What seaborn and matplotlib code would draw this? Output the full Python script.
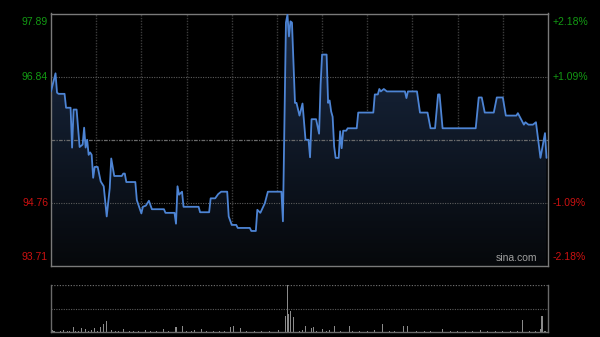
import numpy as np
import pandas as pd
import matplotlib
matplotlib.use("Agg")
import matplotlib.pyplot as plt
from matplotlib.colors import LinearSegmentedColormap
import seaborn as sns

# ---------------- data ----------------
price_minutes = [0, 3, 4, 5, 9, 10, 13, 14, 15, 17, 19, 21, 22, 23, 24, 25, 26, 27, 28, 29,
                 31, 33, 35, 37, 39, 40, 42, 47, 48, 49, 50, 56, 57, 60, 61, 63, 65, 67, 75, 76,
                 82, 83, 84, 85, 87, 88, 98, 99, 105, 106, 109, 111, 113, 117, 118, 120, 123, 124,
                 132, 133, 136, 137, 139, 142, 144, 153, 154, 156, 157, 158, 159, 160, 162, 163,
                 165, 167, 169, 171, 172, 173, 176, 178, 179, 180, 183, 184, 185, 186, 187, 188,
                 189, 191, 192, 193, 194, 196, 197, 203, 204, 214, 215, 217, 218, 219, 221, 223,
                 235, 236, 237, 243, 245, 250, 252, 255, 257, 258, 260, 282, 284, 286, 288, 294,
                 296, 300, 302, 309, 310, 314, 315, 317, 320, 322, 325, 328, 329]
price_values = [96.60, 96.90, 96.58, 96.56, 96.56, 96.33, 96.33, 95.67, 96.30, 96.30, 95.68, 95.72,
                96.00, 95.67, 95.80, 95.55, 95.59, 95.55, 95.17, 95.35,
                95.35, 95.11, 95.03, 94.53, 95.00, 95.49, 95.20, 95.20, 95.24, 95.24, 95.10, 95.10,
                94.80, 94.58, 94.69, 94.71, 94.79, 94.65, 94.65, 94.59,
                94.59, 94.41, 95.03, 94.89, 94.94, 94.69, 94.69, 94.60, 94.60, 94.83, 94.83, 94.90,
                94.94, 94.94, 94.53, 94.39, 94.39, 94.34,
                94.34, 94.29, 94.29, 94.64, 94.59, 94.75, 94.94, 94.94, 94.45, 97.74, 97.87, 97.51,
                97.76, 97.74, 96.41, 96.41,
                96.20, 96.40, 95.80, 95.80, 95.51, 96.14, 96.14, 95.90, 96.71, 97.21, 97.21, 96.41,
                96.45, 96.27, 96.18, 95.69,
                95.50, 95.50, 95.94, 95.66, 95.95, 95.95, 95.99, 95.99, 96.25, 96.25, 96.55, 96.55,
                96.64, 96.60, 96.64, 96.60,
                96.60, 96.49, 96.60, 96.60, 96.25, 96.25, 95.99, 95.99, 96.55, 96.55, 95.99, 95.99,
                96.50, 96.50, 96.25, 96.25,
                96.50, 96.50, 96.20, 96.20, 96.24, 96.05, 96.09, 96.05, 96.05, 96.09, 95.50, 95.91, 95.50]

volume_minutes = [1, 2, 6, 8, 11, 12, 15, 16, 18, 20, 23, 25, 27, 29, 31, 33, 35, 37, 40, 43,
                  45, 48, 52, 55, 58, 63, 66, 70, 75, 78, 83, 87, 90, 93, 95, 100, 103, 108, 112,
                  115, 119, 121, 126, 130, 135, 140, 145, 151, 156, 157, 158, 159, 161, 165, 167,
                  169, 173, 174, 176, 180, 183, 185, 188, 192, 198, 200, 205, 210, 215, 220, 225,
                  228, 234, 237, 243, 248, 252, 260, 265, 270, 275, 280, 285, 290, 295, 300, 305,
                  310, 313, 318, 322, 325, 326, 328]
volume_values = [20, 15, 12, 18, 15, 10, 47, 12, 15, 40, 35, 12, 18, 40, 15, 50, 80, 110, 20, 15,
                 12, 30, 10, 15, 12, 18, 10, 12, 30, 15, 50, 60, 12, 15, 18, 30, 10, 15, 12,
                 10, 55, 60, 40, 12, 10, 15, 12, 20, 160, 470, 177, 210, 147, 15, 20,
                 60, 40, 50, 15, 30, 12, 18, 60, 15, 60, 12, 15, 10, 18, 80, 12,
                 15, 60, 60, 12, 10, 15, 30, 12, 10, 15, 12, 18, 10, 12, 15, 10,
                 12, 120, 15, 10, 30, 160, 12]

prev_close = 95.80
price_ticks = [97.89, 96.84, 94.76, 93.71]
pct_labels = ["+2.18%", "+1.09%", "-1.09%", "-2.18%"]
y_min, y_max = 93.71, 97.89
x_max = 330

price_df = pd.DataFrame({"minute": price_minutes, "price": price_values})
vol_df = pd.DataFrame({"minute": volume_minutes, "volume": volume_values})

# ---------------- style ----------------
sns.set_theme(style="dark", rc={"axes.facecolor": "#000000", "figure.facecolor": "#000000"})
plt.rcParams["font.family"] = ["Liberation Sans", "DejaVu Sans"]

fig = plt.figure(figsize=(6.0, 3.37), dpi=100)
fig.patch.set_facecolor("#000000")
ax = fig.add_axes([51 / 600, 71 / 337, 497 / 600, 252.5 / 337])
axv = fig.add_axes([51 / 600, 5 / 337, 497 / 600, 47 / 337])

for a in (ax, axv):
    a.set_facecolor("#000000")
    a.grid(False)

# gradient fill under the price line
poly = ax.fill_between(price_df["minute"], price_df["price"], y_min, color="none", lw=0)
cmap = LinearSegmentedColormap.from_list("fillgrad", ["#06080b", "#1a2a44"])
grad = np.linspace(1, 0, 256).reshape(-1, 1)
im = ax.imshow(grad, extent=[0, x_max, y_min, y_max], aspect="auto", cmap=cmap,
               origin="upper", zorder=1)
im.set_clip_path(poly.get_paths()[0], ax.transData)

# grid lines
for m in range(30, 330, 30):
    ax.axvline(m, color="#3c3c3c", lw=1.0, ls=(0, (1, 1)), zorder=0.5)
for t in (96.84, 94.76):
    ax.axhline(t, color="#5c5c5c", lw=0.8, ls=(0, (1, 1.2)), zorder=2)
ax.axhline(prev_close, color="#6a6a6a", lw=0.9, ls=(0, (3, 1, 1, 1)), zorder=2)

# price line
sns.lineplot(data=price_df, x="minute", y="price", ax=ax, color="#4d84d4", lw=1.3, zorder=3)

ax.set_xlim(0, x_max)
ax.set_ylim(y_min, y_max)
ax.set_xticks([])
ax.set_yticks([])
ax.set_xlabel("")
ax.set_ylabel("")
for s in ax.spines.values():
    s.set_visible(True)
    s.set_color("#7a7a7a")
    s.set_linewidth(1.0)

# axis labels
colors = ["#139a13", "#139a13", "#cc1111", "#cc1111"]
vas = ["top", "center", "center", "bottom"]
for t, lab, c, va in zip(price_ticks, pct_labels, colors, vas):
    off = {"top": -0.05, "center": 0.0, "bottom": 0.07}[va]
    ax.text(-3 / 497 * x_max, t + off, f"{t:.2f}", color=c, fontsize=7.5,
            ha="right", va=va, transform=ax.transData)
    ax.text(x_max + 5 / 497 * x_max, t + off, lab, color=c, fontsize=7.5,
            ha="left", va=va, transform=ax.transData)

ax.text(0.978, 0.012, "sina.com", color="#a0a0a0", fontsize=7.5, ha="right", va="bottom",
        transform=ax.transAxes, zorder=4)

# volume
axv.bar(vol_df["minute"], vol_df["volume"], width=0.7, color="#8a8a8a", lw=0)
axv.set_xlim(0, x_max)
axv.set_ylim(0, 470)
axv.axhline(235, color="#5c5c5c", lw=0.8, ls=(0, (1, 1.2)))
axv.axhline(470, color="#6a6a6a", lw=0.9, ls=(0, (1, 1.2)))
axv.set_xticks([])
axv.set_yticks([])
for k, s in axv.spines.items():
    s.set_visible(k != "top")
    s.set_color("#6a6a6a")
    s.set_linewidth(1.0)

fig.savefig("out.png", dpi=100, facecolor="#000000")
